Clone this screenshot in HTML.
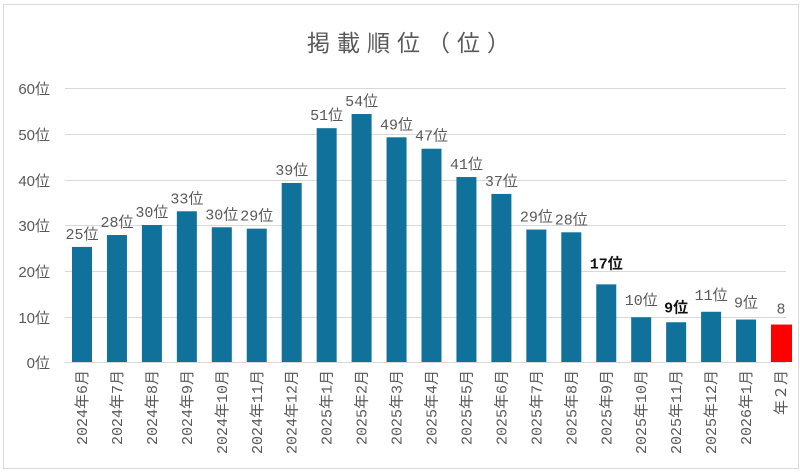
<!DOCTYPE html>
<html><head><meta charset="utf-8"><style>
body{margin:0;background:#fff}
svg{display:block}
text{font-family:"Liberation Sans","Noto Sans CJK JP",sans-serif;fill:#595959}
.m{font-family:"Liberation Mono","Noto Sans CJK JP",monospace;font-size:15px}
</style></head><body>
<svg width="800" height="474" viewBox="0 0 800 474" xmlns="http://www.w3.org/2000/svg">
<rect x="3.5" y="4.5" width="795" height="464" fill="#fff" stroke="#d9d9d9"/>
<text x="412" y="51" font-size="23" text-anchor="middle" letter-spacing="7" fill="#595959">掲載順位（位）</text>
<g stroke="#d9d9d9" stroke-width="1">
<line x1="65" x2="786" y1="88.5" y2="88.5"/><line x1="65" x2="786" y1="134.5" y2="134.5"/>
<line x1="65" x2="786" y1="180.5" y2="180.5"/><line x1="65" x2="786" y1="225.5" y2="225.5"/>
<line x1="65" x2="786" y1="271.5" y2="271.5"/><line x1="65" x2="786" y1="317.5" y2="317.5"/>
<line x1="65" x2="786" y1="362.5" y2="362.5"/>
</g>
<g class="m" text-anchor="end">
<text x="50" y="94">60位</text><text x="50" y="140">50位</text><text x="50" y="186">40位</text>
<text x="50" y="231">30位</text><text x="50" y="277">20位</text><text x="50" y="323">10位</text>
<text x="50" y="368">0位</text>
</g>
<g id="bars"></g>
</svg>
<script>
var vals=[25.2,27.8,30,33,29.5,29.2,39.2,51.2,54.3,49.2,46.7,40.5,36.8,29,28.4,17,9.8,8.7,11,9.3,8.2];
var labs=["25位","28位","30位","33位","30位","29位","39位","51位","54位","49位","47位","41位","37位","29位","28位","17位","10位","9位","11位","9位","8"];
var lab_dy=[0,0,0,0,0,0,0,0,0,0,0,0,0,0,0,-8,-4,-2,-4,-4,-3];
var cats=["2024年6月","2024年7月","2024年8月","2024年9月","2024年10月","2024年11月","2024年12月","2025年1月","2025年2月","2025年3月","2025年4月","2025年5月","2025年6月","2025年7月","2025年8月","2025年9月","2025年10月","2025年11月","2025年12月","2026年1月","年２月"];
var g=document.getElementById('bars'),h="";
for(var i=0;i<21;i++){
 var cx=82+i*34.95,y=362-vals[i]*4.567;
 var col=i==20?"#ff0000":"#10719b";
 var w=i==20?21:20;
 h+='<rect x="'+(cx-10)+'" y="'+y+'" width="'+w+'" height="'+(362-y)+'" fill="'+col+'"/>';
 var bold=(i==15||i==17);
 h+='<text class="m" x="'+cx+'" y="'+(y-8+lab_dy[i])+'" text-anchor="middle"'+(bold?' font-weight="bold" style="fill:#111"':'')+'>'+labs[i]+'</text>';
 h+='<text class="m" transform="translate('+(cx+5)+',370) rotate(-90)" text-anchor="end">'+cats[i]+'</text>';
}
g.innerHTML=h;
</script>
</body></html>
